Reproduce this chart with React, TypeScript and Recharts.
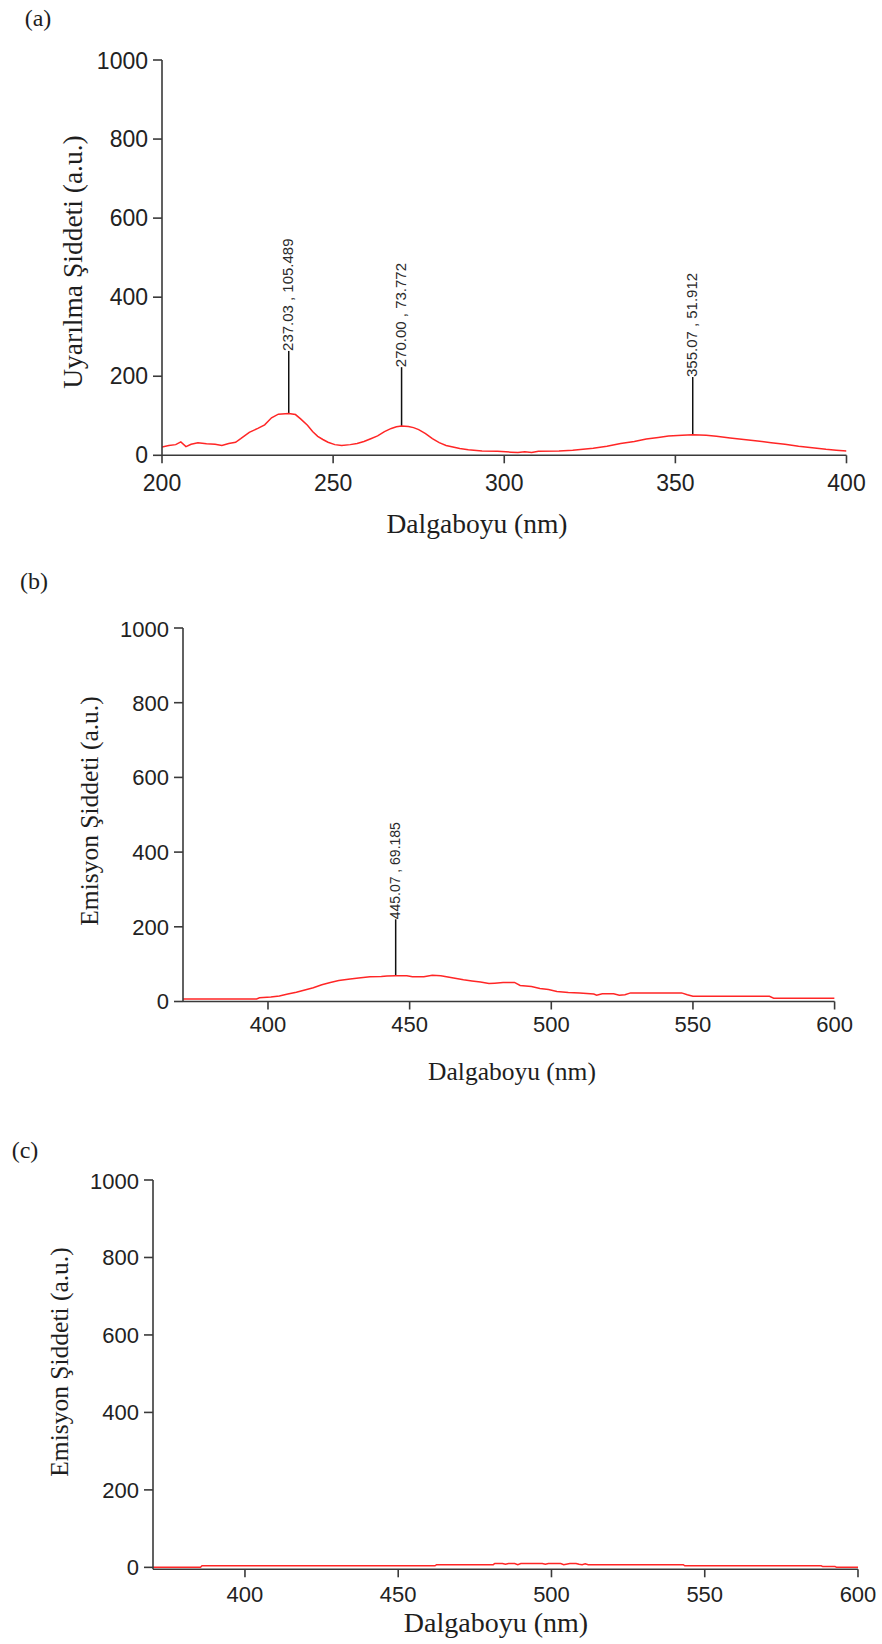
import { LineChart, Line, XAxis, YAxis, ReferenceLine } from 'recharts';

// (a) excitation spectrum
const waveA = [200, 202, 204, 205.5, 207, 208.5, 210.5, 213, 215.5, 217.5, 219.5, 221.5, 223, 225.5, 228, 230, 232, 234, 236, 237.03, 239, 240.5, 242.5, 244, 245.5, 247, 248.5, 250.5, 252.5, 255, 257, 259, 261, 263, 265, 267, 268.5, 270, 272, 273.5, 275, 277, 279, 281, 283, 285, 287, 289.5, 293.5, 298, 302, 304, 306, 308, 310, 316, 320, 326, 330, 334, 338, 341.5, 345, 348, 352, 355.07, 359, 362, 366, 370, 374, 378, 382, 386, 390, 394, 397, 400];
const intensityA = [21, 25, 27, 34, 22, 28, 32, 29, 28, 25, 30, 33, 42, 58, 68, 77, 95, 104, 105, 105.5, 103, 92, 76, 60, 48, 40, 33, 27, 25, 27, 30, 35, 42, 49, 60, 68, 72, 74, 73, 70, 65, 55, 42, 32, 25, 21, 17, 14, 11, 10, 8, 7, 9, 7, 10, 11, 13, 18, 23, 30, 35, 41, 45, 49, 51, 52, 51, 48, 44, 40, 36, 32, 28, 23, 19, 15, 13, 11];
const peakWaveA = [237.03, 270.0, 355.07];
const peakValA = [105.489, 73.772, 51.912];
const stemTopA = [264, 223, 198];
const peakTextA = ['237.03 , 105.489', '270.00 , 73.772', '355.07 , 51.912'];

// (b) emission spectrum
const waveB = [370, 380, 390, 396, 397, 401, 404, 407, 410, 413, 416, 419, 422, 425, 429, 432, 436, 440, 442, 445.07, 449, 451, 455, 458, 461, 463, 466, 469, 472, 475, 478, 480, 483, 487, 489, 493, 496, 499, 502, 506, 510, 515, 516, 518, 522, 524, 526, 528, 546, 548, 550, 577, 578.5, 600];
const intensityB = [7, 7, 7, 7, 10, 12, 15, 20, 25, 31, 37, 45, 51, 56, 60, 63, 66, 67, 68, 69, 69, 66, 66, 70, 69, 66, 62, 58, 55, 52, 48, 49, 51, 51, 43, 40, 35, 32, 27, 24, 23, 20, 17, 21, 21, 17, 18, 23, 23, 18, 14, 14, 9, 9];
const peakWaveB = [445.07];
const peakValB = [69.185];
const stemTopB = [220];
const peakTextB = ['445.07 , 69.185'];

// (c) emission spectrum
const waveC = [370, 385.5, 386, 462, 462.5, 481, 481.5, 484, 485, 486, 488, 489, 490, 497, 498, 499, 503, 504, 506, 508, 509, 510, 511, 512, 543, 543.5, 588, 588.5, 592.5, 593, 600];
const intensityC = [0, 0, 4, 4, 7, 7, 10, 10, 8, 10, 10, 7, 10, 10, 8, 10, 10, 7, 10, 10, 8, 7, 9, 7, 7, 4, 4, 2, 2, 0, 0];

const yTicks = [0, 200, 400, 600, 800, 1000];
const xTicksA = [200, 250, 300, 350, 400];
const xTicksBC = [400, 450, 500, 550, 600];

const SERIF = '"Liberation Serif", "Times New Roman", serif';
const SANS = 'Arial, "Liberation Sans", sans-serif';
const AXIS = '#3a3a3a';
const RED = '#ff2626';

const toRows = (w: number[], v: number[]) => w.map((nm, i) => ({ nm, v: v[i] }));

const stemLabel = (text: string, size: number) => (props: any) => {
  const vb = props.viewBox || props;
  const x = vb.x + 4;
  const y = vb.y;
  return (
    <text x={x} y={y} transform={`rotate(-90 ${x} ${y})`} fontSize={size} fontFamily={SANS} fill="#2a2a2a">
      {text}
    </text>
  );
};

const YW = 70;
const XH = 60;
const MT = 12;
const MR = 34;

interface PanelProps {
  left: number;
  top: number;
  w: number;
  h: number;
  rows: { nm: number; v: number }[];
  xDomain: [number, number];
  yDomain: [number, number];
  xTicks: number[];
  tickFont: number;
  xTickGap: number;
  peaks?: { x: number; y: number; top: number; text: string }[];
  peakFont?: number;
}

function Panel({ left, top, w, h, rows, xDomain, yDomain, xTicks, tickFont, xTickGap, peaks = [], peakFont = 14 }: PanelProps) {
  return (
    <div style={{ position: 'absolute', left: left - YW, top: top - MT }}>
      <LineChart width={YW + w + MR} height={MT + h + XH} data={rows} margin={{ top: MT, right: MR, bottom: 0, left: 0 }}>
        <XAxis
          type="number"
          dataKey="nm"
          domain={xDomain}
          ticks={xTicks}
          allowDataOverflow
          height={XH}
          tickSize={8}
          tickMargin={xTickGap}
          axisLine={{ stroke: AXIS, strokeWidth: 1.6 }}
          tickLine={{ stroke: AXIS, strokeWidth: 1.6 }}
          tick={{ fontSize: tickFont, fill: '#222', fontFamily: SANS }}
        />
        <YAxis
          type="number"
          domain={yDomain}
          ticks={yTicks}
          allowDataOverflow
          width={YW}
          tickSize={9}
          tickMargin={5}
          axisLine={{ stroke: AXIS, strokeWidth: 1.6 }}
          tickLine={{ stroke: AXIS, strokeWidth: 1.6 }}
          tick={{ fontSize: tickFont, fill: '#222', fontFamily: SANS }}
        />
        {peaks.map((p, i) => (
          <ReferenceLine
            key={`pk-${i}`}
            segment={[{ x: p.x, y: p.y }, { x: p.x, y: p.top }]}
            stroke="#111"
            strokeWidth={1.5}
            label={stemLabel(p.text, peakFont)}
          />
        ))}
        <Line type="linear" dataKey="v" stroke={RED} strokeWidth={1.5} dot={false} isAnimationActive={false} />
      </LineChart>
    </div>
  );
}

function Txt({ x, y, size, rotate, children }: { x: number; y: number; size: number; rotate?: boolean; children: string }) {
  return (
    <div
      style={{
        position: 'absolute',
        left: x,
        top: y,
        transform: `translate(-50%, -50%)${rotate ? ' rotate(-90deg)' : ''}`,
        fontFamily: SERIF,
        fontSize: size,
        color: '#1e1e1e',
        whiteSpace: 'nowrap',
        lineHeight: 1,
      }}
    >
      {children}
    </div>
  );
}

export default function App() {
  const peaksA = peakWaveA.map((x, i) => ({ x, y: peakValA[i], top: stemTopA[i], text: peakTextA[i] }));
  const peaksB = peakWaveB.map((x, i) => ({ x, y: peakValB[i], top: stemTopB[i], text: peakTextB[i] }));

  return (
    <div style={{ position: 'absolute', left: 0, top: 0, width: 882, height: 1644, background: '#fff', overflow: 'hidden' }}>
      <Txt x={38} y={18} size={24}>(a)</Txt>
      <Panel
        left={161.5}
        top={60}
        w={684.5}
        h={395.3}
        rows={toRows(waveA, intensityA)}
        xDomain={[200, 400]}
        yDomain={[0, 1000]}
        xTicks={xTicksA}
        tickFont={23}
        xTickGap={11}
        peaks={peaksA}
        peakFont={15}
      />
      <Txt x={73} y={262} size={27.5} rotate>Uyarılma Şiddeti (a.u.)</Txt>
      <Txt x={477} y={524} size={27.5}>Dalgaboyu (nm)</Txt>

      <Txt x={34} y={581} size={24}>(b)</Txt>
      <Panel
        left={182.7}
        top={628.3}
        w={651.6}
        h={373.5}
        rows={toRows(waveB, intensityB)}
        xDomain={[370, 600]}
        yDomain={[0, 1000]}
        xTicks={xTicksBC}
        tickFont={22}
        xTickGap={7}
        peaks={peaksB}
        peakFont={14}
      />
      <Txt x={90} y={811} size={25.5} rotate>Emisyon Şiddeti (a.u.)</Txt>
      <Txt x={512} y={1072} size={25.5}>Dalgaboyu (nm)</Txt>

      <Txt x={25} y={1150} size={24}>(c)</Txt>
      <Panel
        left={152.7}
        top={1180}
        w={705}
        h={389.3}
        rows={toRows(waveC, intensityC)}
        xDomain={[370, 600]}
        yDomain={[-5, 1000]}
        xTicks={xTicksBC}
        tickFont={22}
        xTickGap={9}
      />
      <Txt x={60} y={1362} size={25.5} rotate>Emisyon Şiddeti (a.u.)</Txt>
      <Txt x={496} y={1623} size={28}>Dalgaboyu (nm)</Txt>
    </div>
  );
}
